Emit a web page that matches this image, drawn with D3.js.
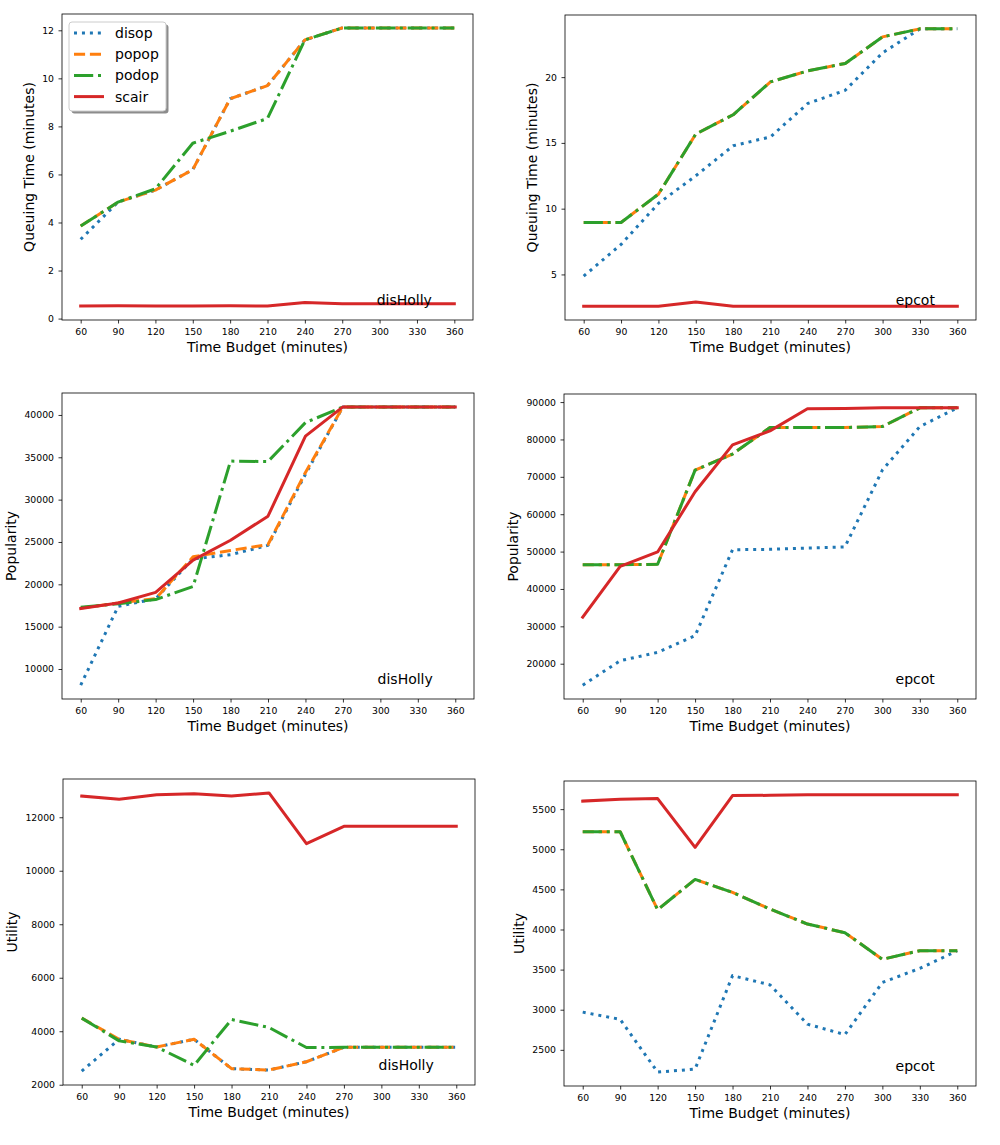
<!DOCTYPE html>
<html lang="en">
<head>
<meta charset="UTF-8">
<title>Time budget comparison</title>
<script src="https://cdn.jsdelivr.net/npm/d3@7"></script>
<style>
  body { margin: 0; background: #fff; }
  svg { font-family: "DejaVu Sans", sans-serif; display: block; }
</style>
</head>
<body>
<div id="container"></div>
<script>
// x values shared by every panel
const budgets = [60, 90, 120, 150, 180, 210, 240, 270, 300, 330, 360];
const seriesNames = ["disop", "popop", "podop", "scair"];

// queuing time, disHolly
const qHollyDisop = [3.3, 4.85, 5.35, 6.2, 9.15, 9.7, 11.6, 12.1, 12.1, 12.1, 12.1];
const qHollyPopop = [3.85, 4.85, 5.35, 6.2, 9.15, 9.7, 11.6, 12.1, 12.1, 12.1, 12.1];
const qHollyPodop = [3.85, 4.85, 5.4, 7.3, 7.8, 8.33, 11.6, 12.1, 12.1, 12.1, 12.1];
const qHollyScair = [0.52, 0.53, 0.52, 0.52, 0.53, 0.52, 0.67, 0.62, 0.62, 0.62, 0.62];

// queuing time, epcot
const qEpcotDisop = [4.87, 7.28, 10.4, 12.5, 14.78, 15.46, 18.0, 19.0, 21.85, 23.67, 23.67];
const qEpcotPopop = [8.95, 8.95, 11.1, 15.67, 17.14, 19.64, 20.48, 21.04, 23.06, 23.67, 23.67];
const qEpcotPodop = [8.95, 8.95, 11.1, 15.67, 17.14, 19.64, 20.48, 21.04, 23.06, 23.67, 23.67];
const qEpcotScair = [2.59, 2.59, 2.59, 2.9, 2.59, 2.59, 2.59, 2.59, 2.59, 2.59, 2.59];

// popularity, disHolly
const pHollyDisop = [8100, 17400, 18300, 23000, 23500, 24600, 33000, 40950, 40950, 40950, 40950];
const pHollyPopop = [17200, 17800, 18300, 23250, 24000, 24700, 33200, 40950, 40950, 40950, 40950];
const pHollyPodop = [17300, 17700, 18200, 19750, 34550, 34500, 39100, 40950, 40950, 40950, 40950];
const pHollyScair = [17150, 17800, 19050, 22850, 25200, 28050, 37500, 40950, 40950, 40950, 40950];

// popularity, epcot
const pEpcotDisop = [14270, 20800, 23050, 27500, 50500, 50600, 50950, 51250, 71800, 83450, 88450];
const pEpcotPopop = [46500, 46500, 46600, 71800, 76100, 83200, 83200, 83200, 83450, 88450, 88450];
const pEpcotPodop = [46500, 46500, 46600, 71800, 76100, 83200, 83200, 83200, 83450, 88450, 88450];
const pEpcotScair = [32450, 46050, 49900, 66000, 78550, 82300, 88200, 88250, 88450, 88450, 88450];

// utility, disHolly
const uHollyDisop = [2510, 3700, 3410, 3700, 2600, 2550, 2860, 3400, 3400, 3400, 3400];
const uHollyPopop = [4490, 3700, 3410, 3700, 2600, 2550, 2860, 3400, 3400, 3400, 3400];
const uHollyPodop = [4490, 3640, 3410, 2725, 4440, 4140, 3390, 3400, 3400, 3400, 3400];
const uHollyScair = [12790, 12675, 12840, 12875, 12790, 12910, 11010, 11660, 11660, 11660, 11660];

// utility, epcot
const uEpcotDisop = [2970, 2880, 2222, 2260, 3425, 3310, 2820, 2690, 3340, 3515, 3735];
const uEpcotPopop = [5218, 5218, 4247, 4624, 4462, 4255, 4068, 3960, 3628, 3736, 3736];
const uEpcotPodop = [5218, 5218, 4247, 4624, 4462, 4255, 4068, 3960, 3628, 3736, 3736];
const uEpcotScair = [5600, 5624, 5632, 5023, 5670, 5672, 5678, 5678, 5678, 5678, 5678];

// tick values
const xTicks = budgets;
const yTicksQHolly = [0, 2, 4, 6, 8, 10, 12];
const yTicksQEpcot = [5, 10, 15, 20];
const yTicksPHolly = [10000, 15000, 20000, 25000, 30000, 35000, 40000];
const yTicksPEpcot = [20000, 30000, 40000, 50000, 60000, 70000, 80000, 90000];
const yTicksUHolly = [2000, 4000, 6000, 8000, 10000, 12000];
const yTicksUEpcot = [2500, 3000, 3500, 4000, 4500, 5000, 5500];

const colors = ["#1f77b4", "#ff7f0e", "#2ca02c", "#d62728"];
const dashes = ["3,4.95", "11.1,4.8", "19.2,4.8,3,4.8", null];

const width = 1000;
const height = 1145;

const panels = [
  {left: 62, right: 473, top: 14, bottom: 320, ylabel: "Queuing Time (minutes)", park: "disHolly",
   series: [qHollyDisop, qHollyPopop, qHollyPodop, qHollyScair], yTicks: yTicksQHolly, legend: true},
  {left: 565, right: 976, top: 15, bottom: 320, ylabel: "Queuing Time (minutes)", park: "epcot",
   series: [qEpcotDisop, qEpcotPopop, qEpcotPodop, qEpcotScair], yTicks: yTicksQEpcot},
  {left: 62, right: 474, top: 393, bottom: 699, ylabel: "Popularity", park: "disHolly",
   series: [pHollyDisop, pHollyPopop, pHollyPodop, pHollyScair], yTicks: yTicksPHolly},
  {left: 564, right: 976, top: 394, bottom: 699, ylabel: "Popularity", park: "epcot",
   series: [pEpcotDisop, pEpcotPopop, pEpcotPodop, pEpcotScair], yTicks: yTicksPEpcot},
  {left: 63, right: 475, top: 779, bottom: 1085, ylabel: "Utility", park: "disHolly",
   series: [uHollyDisop, uHollyPopop, uHollyPodop, uHollyScair], yTicks: yTicksUHolly},
  {left: 564, right: 976, top: 781, bottom: 1086, ylabel: "Utility", park: "epcot",
   series: [uEpcotDisop, uEpcotPopop, uEpcotPodop, uEpcotScair], yTicks: yTicksUEpcot}
];

const svg = d3.select("#container").append("svg")
    .attr("width", width)
    .attr("height", height);

svg.append("rect").attr("width", width).attr("height", height).attr("fill", "#fff");

function drawPanel(p) {
  // matplotlib style 5% margins
  const xExt = d3.extent(budgets);
  const xPad = (xExt[1] - xExt[0]) * 0.05;
  const x = d3.scaleLinear()
      .domain([xExt[0] - xPad, xExt[1] + xPad])
      .range([p.left, p.right]);

  const all = p.series.flat();
  const yExt = d3.extent(all);
  const yPad = (yExt[1] - yExt[0]) * 0.05;
  const y = d3.scaleLinear()
      .domain([yExt[0] - yPad, yExt[1] + yPad])
      .range([p.bottom, p.top]);

  const g = svg.append("g");

  const xAxis = g.append("g")
      .attr("transform", `translate(0,${p.bottom})`)
      .call(d3.axisBottom(x).tickValues(xTicks).tickSize(3.5).tickPadding(4.5).tickSizeOuter(0));
  const yAxis = g.append("g")
      .attr("transform", `translate(${p.left},0)`)
      .call(d3.axisLeft(y).tickValues(p.yTicks).tickSize(3.5).tickPadding(4.5).tickFormat(d3.format("d")).tickSizeOuter(0));

  [xAxis, yAxis].forEach(a => {
    a.select(".domain").remove();
    a.selectAll("line").attr("stroke", "#000").attr("stroke-width", 0.8);
    a.selectAll("text").attr("font-size", 9.3).attr("fill", "#000")
      .attr("font-family", "DejaVu Sans, sans-serif");
  });

  // lines
  const line = d3.line()
      .x((d, i) => x(budgets[i]))
      .y(d => y(d));

  p.series.forEach((vals, k) => {
    g.append("path")
      .datum(vals)
      .attr("d", line)
      .attr("fill", "none")
      .attr("stroke", colors[k])
      .attr("stroke-width", 3)
      .attr("stroke-linejoin", "round")
      .attr("stroke-linecap", dashes[k] ? "butt" : "square")
      .attr("stroke-dasharray", dashes[k]);
  });

  // frame
  g.append("rect")
      .attr("x", p.left).attr("y", p.top)
      .attr("width", p.right - p.left).attr("height", p.bottom - p.top)
      .attr("fill", "none").attr("stroke", "#000").attr("stroke-width", 0.8);

  // park annotation
  g.append("text")
      .attr("x", p.right - 0.1 * (p.right - p.left))
      .attr("y", p.bottom - 0.05 * (p.bottom - p.top))
      .attr("text-anchor", "end")
      .attr("font-size", 14)
      .text(p.park);

  // axis labels
  g.append("text")
      .attr("x", (p.left + p.right) / 2)
      .attr("y", p.bottom + 32)
      .attr("text-anchor", "middle")
      .attr("font-size", 14)
      .text("Time Budget (minutes)");

  const tickBox = yAxis.node().getBBox();
  const lx = p.left + tickBox.x - 8;
  g.append("text")
      .attr("transform", `translate(${lx},${(p.top + p.bottom) / 2}) rotate(-90)`)
      .attr("text-anchor", "middle")
      .attr("font-size", 14)
      .text(p.ylabel);

  if (p.legend) drawLegend(g, p);
}

function drawLegend(g, p) {
  const lx = p.left + 7, ly = p.top + 8;
  const lw = 97, lh = 89;
  g.append("rect")
      .attr("x", lx + 2.5).attr("y", ly + 2.5)
      .attr("width", lw).attr("height", lh).attr("rx", 3)
      .attr("fill", "#000").attr("fill-opacity", 0.45);
  g.append("rect")
      .attr("x", lx).attr("y", ly)
      .attr("width", lw).attr("height", lh).attr("rx", 3)
      .attr("fill", "#fff").attr("stroke", "#ccc").attr("stroke-width", 1);

  seriesNames.forEach((name, k) => {
    const yy = ly + 11 + k * 21.2;
    g.append("line")
        .attr("x1", lx + 5).attr("x2", lx + 35)
        .attr("y1", yy).attr("y2", yy)
        .attr("stroke", colors[k]).attr("stroke-width", 3)
        .attr("stroke-dasharray", dashes[k]);
    g.append("text")
        .attr("x", lx + 46).attr("y", yy)
        .attr("dy", "0.35em")
        .attr("font-size", 14)
        .text(name);
  });
}

panels.forEach(drawPanel);
</script>
</body>
</html>
